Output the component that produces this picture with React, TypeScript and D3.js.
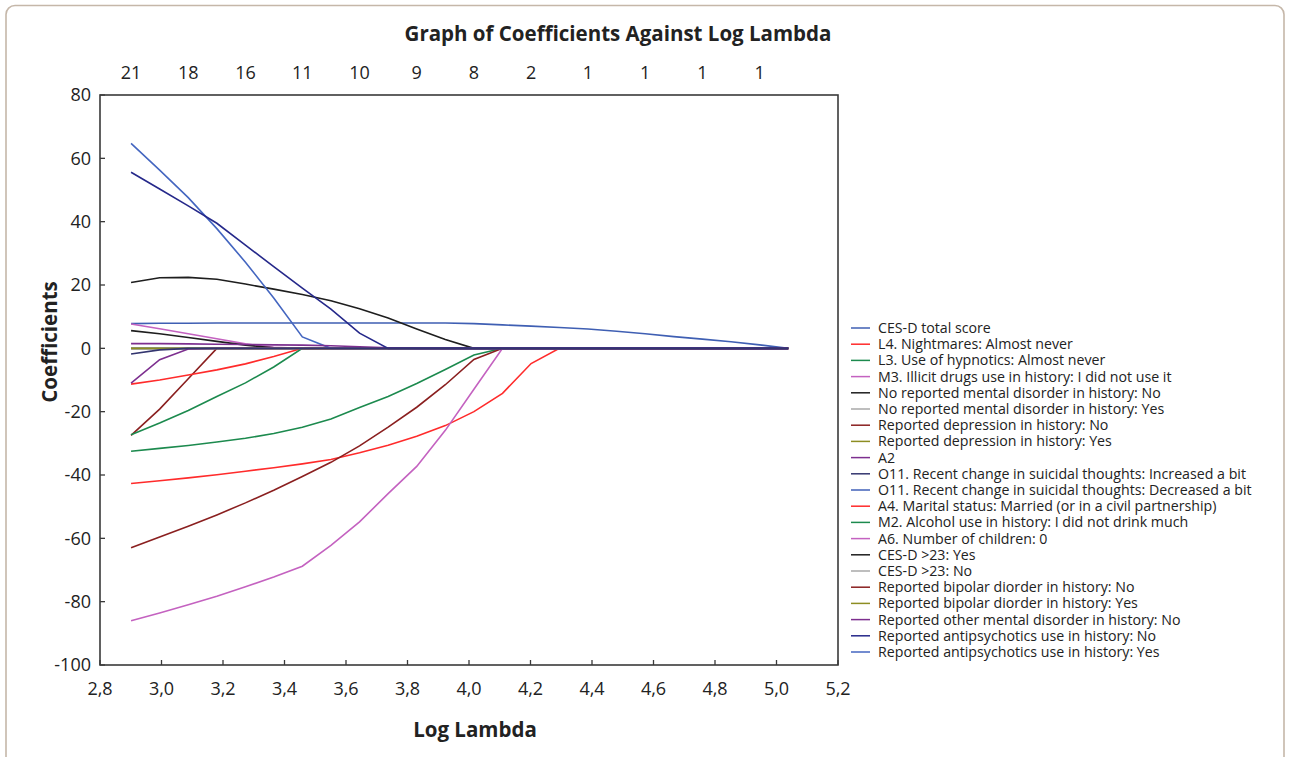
import React from 'react';
import * as d3 from 'd3';

// log lambda grid (x of every vertex)
const logLambda = [2.901, 2.994, 3.087, 3.180, 3.273, 3.365, 3.458, 3.551, 3.644, 3.737, 3.830, 3.923,
  4.016, 4.109, 4.202, 4.294, 4.387, 4.480, 4.573, 4.666, 4.759, 4.852, 4.945, 5.038];

// number of non-zero coefficients, shown on top at every second lambda
const topCounts = ['21', '18', '16', '11', '10', '9', '8', '2', '1', '1', '1', '1'];

const yTicks = [-100, -80, -60, -40, -20, 0, 20, 40, 60, 80];
const xTicks = [2.8, 3.0, 3.2, 3.4, 3.6, 3.8, 4.0, 4.2, 4.4, 4.6, 4.8, 5.0, 5.2];

const cesdTotal = [7.8, 7.9, 7.9, 8.0, 8.0, 8.0, 8.0, 8.0, 8.0, 8.0, 8.0, 8.0, 7.8, 7.4, 7.0, 6.6, 6.1, 5.4, 4.6, 3.7, 2.9, 2.1, 1.1, 0];
const nightmares = [-42.7, -41.8, -40.9, -39.9, -38.8, -37.7, -36.5, -35.1, -33.0, -30.6, -27.8, -24.4, -20.0, -14.2, -4.8, 0, 0, 0, 0, 0, 0, 0, 0, 0];
const hypnotics = [-32.5, -31.6, -30.7, -29.6, -28.4, -26.9, -24.9, -22.3, -18.7, -15.2, -11.1, -6.7, -2.1, 0, 0, 0, 0, 0, 0, 0, 0, 0, 0, 0];
const illicitDrugs = [7.7, 6.2, 4.6, 3.0, 1.4, 0.3, 0, 0, 0, 0, 0, 0, 0, 0, 0, 0, 0, 0, 0, 0, 0, 0, 0, 0];
const noDisorderNo = [5.6, 4.6, 3.4, 2.2, 1.0, 0.2, 0, 0, 0, 0, 0, 0, 0, 0, 0, 0, 0, 0, 0, 0, 0, 0, 0, 0];
const noDisorderYes = [0, 0, 0, 0, 0, 0, 0, 0, 0, 0, 0, 0, 0, 0, 0, 0, 0, 0, 0, 0, 0, 0, 0, 0];
const depressionNo = [-27.5, -19.2, -9.6, 0, 0, 0, 0, 0, 0, 0, 0, 0, 0, 0, 0, 0, 0, 0, 0, 0, 0, 0, 0, 0];
const depressionYes = [0, 0, 0, 0, 0, 0, 0, 0, 0, 0, 0, 0, 0, 0, 0, 0, 0, 0, 0, 0, 0, 0, 0, 0];
const a2 = [-11.0, -3.6, -0.2, 0, 0, 0, 0, 0, 0, 0, 0, 0, 0, 0, 0, 0, 0, 0, 0, 0, 0, 0, 0, 0];
const o11Increased = [-1.8, -0.5, 0, 0, 0, 0, 0, 0, 0, 0, 0, 0, 0, 0, 0, 0, 0, 0, 0, 0, 0, 0, 0, 0];
const o11Decreased = [0, 0, 0, 0, 0, 0, 0, 0, 0, 0, 0, 0, 0, 0, 0, 0, 0, 0, 0, 0, 0, 0, 0, 0];
const maritalStatus = [-11.3, -10.0, -8.4, -6.8, -4.9, -2.6, 0, 0, 0, 0, 0, 0, 0, 0, 0, 0, 0, 0, 0, 0, 0, 0, 0, 0];
const alcohol = [-27.3, -23.6, -19.6, -15.2, -10.9, -5.9, 0, 0, 0, 0, 0, 0, 0, 0, 0, 0, 0, 0, 0, 0, 0, 0, 0, 0];
const children = [-86.0, -83.6, -81.0, -78.3, -75.3, -72.2, -68.8, -62.2, -54.8, -45.9, -37.3, -25.9, -12.9, 0, 0, 0, 0, 0, 0, 0, 0, 0, 0, 0];
const cesd23Yes = [20.8, 22.3, 22.4, 21.8, 20.3, 18.7, 17.0, 15.0, 12.5, 9.6, 6.1, 2.8, 0, 0, 0, 0, 0, 0, 0, 0, 0, 0, 0, 0];
const cesd23No = [0, 0, 0, 0, 0, 0, 0, 0, 0, 0, 0, 0, 0, 0, 0, 0, 0, 0, 0, 0, 0, 0, 0, 0];
const bipolarNo = [-63.0, -59.6, -56.2, -52.6, -48.8, -44.8, -40.5, -36.0, -30.8, -24.9, -18.6, -11.5, -3.5, 0, 0, 0, 0, 0, 0, 0, 0, 0, 0, 0];
const bipolarYes = [0, 0, 0, 0, 0, 0, 0, 0, 0, 0, 0, 0, 0, 0, 0, 0, 0, 0, 0, 0, 0, 0, 0, 0];
const otherDisorderNo = [1.5, 1.5, 1.4, 1.3, 1.2, 1.1, 1.0, 0.8, 0.5, 0.2, 0, 0, 0, 0, 0, 0, 0, 0, 0, 0, 0, 0, 0, 0];
const antipsychoticsNo = [55.6, 50.3, 45.0, 39.5, 32.6, 25.8, 19.0, 12.4, 4.8, 0, 0, 0, 0, 0, 0, 0, 0, 0, 0, 0, 0, 0, 0, 0];
const antipsychoticsYes = [64.7, 56.3, 47.6, 37.8, 27.2, 15.9, 3.6, 0, 0, 0, 0, 0, 0, 0, 0, 0, 0, 0, 0, 0, 0, 0, 0, 0];

const seriesNames = [
  'CES-D total score',
  'L4. Nightmares: Almost never',
  'L3. Use of hypnotics: Almost never',
  'M3. Illicit drugs use in history: I did not use it',
  'No reported mental disorder in history: No',
  'No reported mental disorder in history: Yes',
  'Reported depression in history: No',
  'Reported depression in history: Yes',
  'A2',
  'O11. Recent change in suicidal thoughts: Increased a bit',
  'O11. Recent change in suicidal thoughts: Decreased a bit',
  'A4. Marital status: Married (or in a civil partnership)',
  'M2. Alcohol use in history: I did not drink much',
  'A6. Number of children: 0',
  'CES-D >23: Yes',
  'CES-D >23: No',
  'Reported bipolar diorder in history: No',
  'Reported bipolar diorder in history: Yes',
  'Reported other mental disorder in history: No',
  'Reported antipsychotics use in history: No',
  'Reported antipsychotics use in history: Yes',
];
const seriesValues = [cesdTotal, nightmares, hypnotics, illicitDrugs, noDisorderNo, noDisorderYes, depressionNo,
  depressionYes, a2, o11Increased, o11Decreased, maritalStatus, alcohol, children, cesd23Yes, cesd23No,
  bipolarNo, bipolarYes, otherDisorderNo, antipsychoticsNo, antipsychoticsYes];
const seriesColors = ['#3f5fb3', '#ff2b2b', '#1c8a4e', '#c462c0', '#1e1e1e', '#a9a9a9', '#8a1f1f', '#8d8d22',
  '#7d2f8f', '#33356f', '#4060b8', '#ff2b2b', '#1c8a4e', '#c462c0', '#1e1e1e', '#a9a9a9',
  '#8a1f1f', '#8d8d22', '#7d2f8f', '#25288a', '#4466c0'];

// paint order: navy / purple last, so the shared zero line looks as in the original
const drawOrder = [0, 1, 2, 3, 4, 5, 6, 7, 10, 11, 12, 13, 14, 15, 16, 17, 20, 8, 18, 19, 9];

const font = '"Open Sans", "Noto Sans", sans-serif';

export default function App() {
  const W = 1290, H = 757;
  const left = 100, right = 838, top = 95, bottom = 665;
  const x = d3.scaleLinear().domain([2.8, 5.2]).range([left, right]);
  const y = d3.scaleLinear().domain([-100, 80]).range([bottom, top]);
  const line = d3.line<number>().x((_, i) => x(logLambda[i])).y(d => y(d));
  const fmt = (v: number) => d3.format('.1f')(v).replace('.', ',');

  const legX = 851, legY = 328, legStep = 16.2;

  return (
    <svg width={W} height={H} style={{ position: 'absolute', left: 0, top: 0, background: '#fff' }}>
      <defs>
        <clipPath id="plotClip">
          <rect x={left} y={top} width={right - left} height={bottom - top} />
        </clipPath>
      </defs>
      <rect x={6} y={5.5} width={1278} height={820} rx={9} fill="#fff" stroke="#c5b7a9" strokeWidth={1.6} />

      <text x={618} y={41} textAnchor="middle" fontFamily={font} fontWeight="bold" fontSize={20.5} fill="#222">
        Graph of Coefficients Against Log Lambda
      </text>

      {topCounts.map((t, i) => (
        <text key={'tc' + i} x={x(logLambda[i * 2])} y={79} textAnchor="middle" fontFamily={font} fontSize={18} fill="#222">{t}</text>
      ))}

      <g clipPath="url(#plotClip)">
        {drawOrder.map(i => (
          <path key={'s' + i} d={line(seriesValues[i]) || ''} fill="none" stroke={seriesColors[i]} strokeWidth={1.6} />
        ))}
      </g>

      <rect x={left} y={top} width={right - left} height={bottom - top} fill="none" stroke="#3a3a3a" strokeWidth={1.6} />

      {yTicks.map(t => (
        <g key={'y' + t}>
          <line x1={left} x2={left + 5} y1={y(t)} y2={y(t)} stroke="#3a3a3a" strokeWidth={1.3} />
          <text x={left - 9} y={y(t)} dy="0.35em" textAnchor="end" fontFamily={font} fontSize={18} fill="#222">{t}</text>
        </g>
      ))}
      {xTicks.map(t => (
        <g key={'x' + t}>
          <line x1={x(t)} x2={x(t)} y1={bottom} y2={bottom - 5} stroke="#3a3a3a" strokeWidth={1.3} />
          <text x={x(t)} y={bottom + 24} dy="0.35em" textAnchor="middle" fontFamily={font} fontSize={18} fill="#222">{fmt(t)}</text>
        </g>
      ))}

      <text x={475} y={730} dy="0.35em" textAnchor="middle" fontFamily={font} fontWeight="bold" fontSize={20.5} fill="#222">Log Lambda</text>
      <text transform="translate(50,342) rotate(-90)" dy="0.35em" textAnchor="middle" fontFamily={font} fontWeight="bold" fontSize={20.5} fill="#222">Coefficients</text>

      {seriesNames.map((n, i) => (
        <g key={'l' + i} transform={`translate(${legX},${legY + i * legStep})`}>
          <line x1={0} x2={19} y1={0} y2={0} stroke={seriesColors[i]} strokeWidth={1.5} />
          <text x={27} y={0} dy="0.35em" fontFamily={font} fontSize={14.2} fill="#222">{n}</text>
        </g>
      ))}
    </svg>
  );
}
